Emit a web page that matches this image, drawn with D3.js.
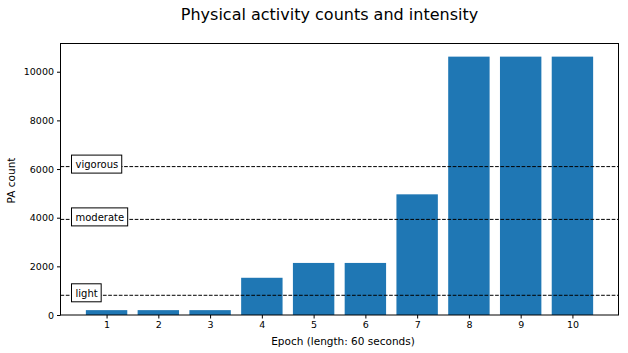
<!DOCTYPE html>
<html><head><meta charset="utf-8">
<script src="https://cdn.jsdelivr.net/npm/d3@7"></script>
<style>body{margin:0;background:#fff}svg{display:block}text{font-family:"DejaVu Sans",sans-serif;fill:#000}</style>
</head><body>
<svg id="c" width="628" height="353"></svg>
<script>
const epochs = [1,2,3,4,5,6,7,8,9,10];
const counts = [200,200,200,1530,2140,2140,4960,10620,10620,10620];
const thresholdNames = ["light","moderate","vigorous"];
const thresholdValues = [810,3930,6100];
const yTicks = [0,2000,4000,6000,8000,10000];
const title = "Physical activity counts and intensity";
const xLabel = "Epoch (length: 60 seconds)";
const yLabel = "PA count";

const svg = d3.select("#c");
const L=60.5, R=618.5, T=43.5, B=315;
const x = d3.scaleLinear().domain([0.11,10.89]).range([L,R]);
const y = d3.scaleLinear().domain([0,11160]).range([B,T]);
const bw = x(0.8)-x(0);

svg.append("g").selectAll("rect").data(epochs).join("rect")
  .attr("x",(d)=>x(d-0.4)).attr("width",bw)
  .attr("y",(d,i)=>y(counts[i])).attr("height",(d,i)=>B-y(counts[i]))
  .attr("fill","#1f77b4");

const g = svg.append("g");
thresholdValues.forEach((v,i)=>{
  g.append("line").attr("x1",L).attr("x2",R).attr("y1",y(v)).attr("y2",y(v))
    .attr("stroke","#000").attr("stroke-width",1).attr("stroke-dasharray","3.7,1.6");
  const t = g.append("text").attr("x",75.5).attr("y",y(v)+1.5).attr("font-size","10px").text(thresholdNames[i]);
  const w = t.node().getComputedTextLength();
  g.insert("rect","text:last-of-type").attr("x",71.5).attr("y",y(v)-11.5).attr("width",w+7.5).attr("height",18)
    .attr("fill","#fff").attr("stroke","#000").attr("stroke-width",1);
  t.raise();
});

const xa = svg.append("g").attr("transform",`translate(0,${B})`)
  .call(d3.axisBottom(x).tickValues(epochs).tickSize(3.5).tickPadding(3).tickFormat(d3.format("d")));
const ya = svg.append("g").attr("transform",`translate(${L},0)`)
  .call(d3.axisLeft(y).tickValues(yTicks).tickSize(3.5).tickPadding(3).tickFormat(d3.format("d")));
[xa,ya].forEach(a=>{a.select(".domain").remove();a.selectAll("text").attr("font-size","9.5px").attr("font-family","DejaVu Sans").attr("fill","#000");a.selectAll("line").attr("stroke","#000");});

svg.append("rect").attr("x",L).attr("y",T).attr("width",R-L).attr("height",B-T)
  .attr("fill","none").attr("stroke","#000").attr("stroke-width",1);

svg.append("text").attr("x",329.5).attr("y",19.5).attr("text-anchor","middle").attr("font-size","16px").text(title);
svg.append("text").attr("x",343).attr("y",345).attr("text-anchor","middle").attr("font-size","10.5px").text(xLabel);
svg.append("text").attr("transform","translate(14.5,180.5) rotate(-90)").attr("text-anchor","middle").attr("font-size","10.5px").text(yLabel);
</script>
</body></html>
